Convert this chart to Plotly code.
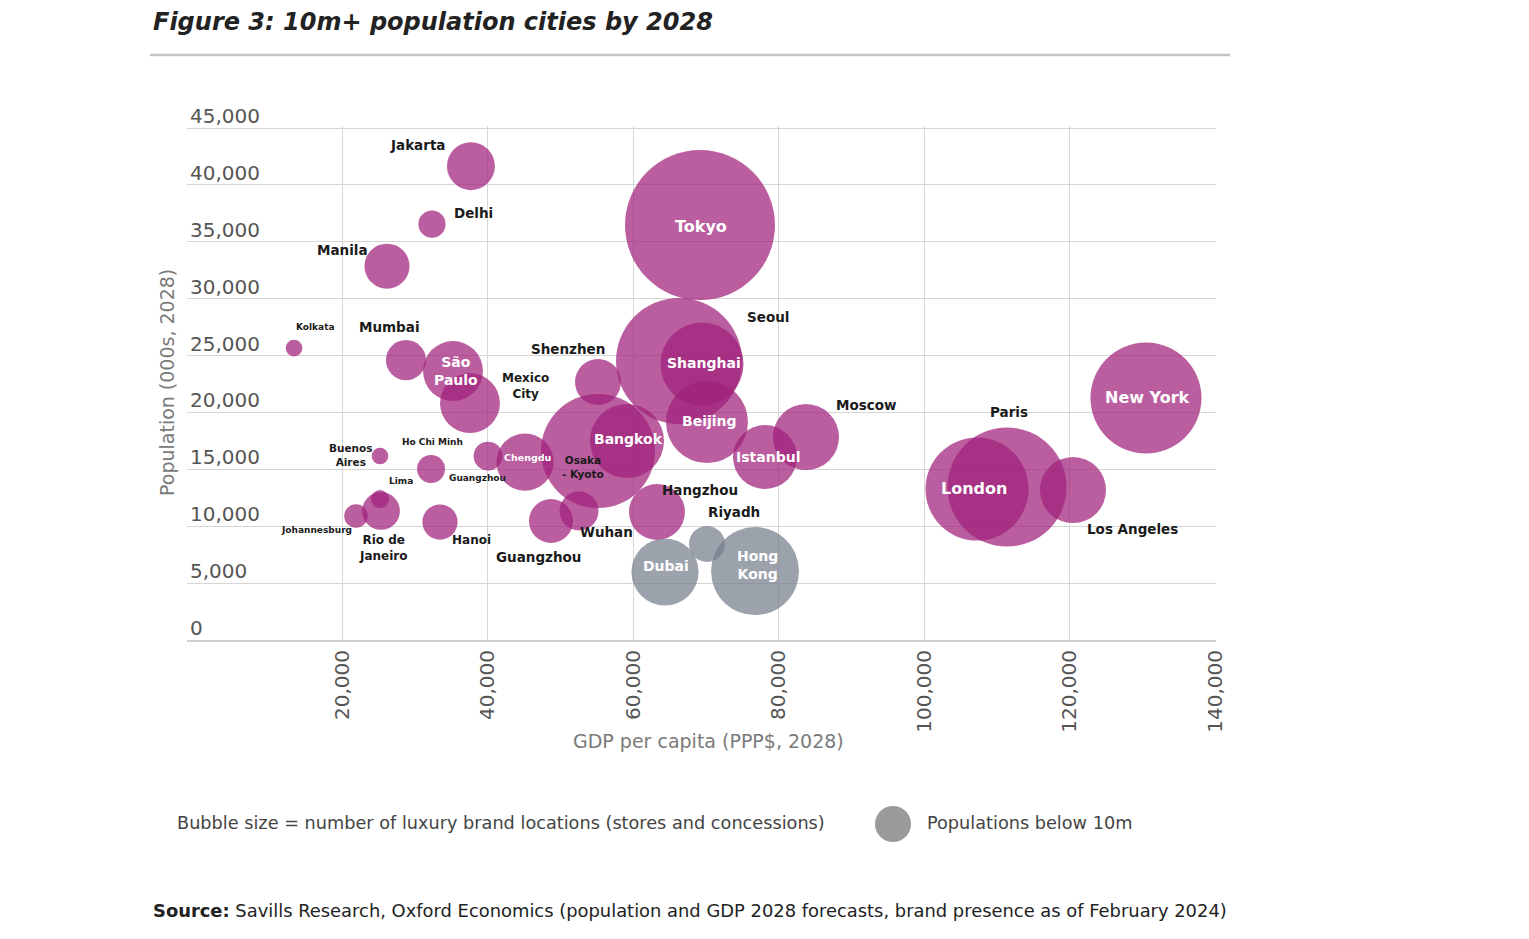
import plotly.graph_objects as go

# ---------------- data ----------------
cities = ["Jakarta", "Delhi", "Manila", "Kolkata", "Mumbai", "São Paulo", "Mexico City",
          "Buenos Aires", "Ho Chi Minh", "Guangzhou", "Chengdu", "Osaka - Kyoto", "Bangkok",
          "Shenzhen", "Seoul", "Shanghai", "Beijing", "Istanbul", "Moscow", "Hangzhou",
          "Wuhan", "Guangzhou", "Rio de Janeiro", "Lima", "Johannesburg", "Hanoi",
          "New York", "Paris", "London", "Los Angeles", "Tokyo"]
gdp_pc = [37700, 32350, 26170, 13400, 28780, 35240, 37570,
          25210, 32220, 40050, 45130, 55160, 59140,
          55160, 66290, 69450, 70130, 78100, 83730, 63260,
          52550, 48700, 25350, 25210, 21910, 33450,
          130440, 111350, 107230, 120410, 69170]
population = [41650, 36550, 32860, 25660, 24600, 23640, 20820,
              16170, 15030, 16170, 15640, 16610, 17490,
              22670, 24520, 24250, 19160, 16080, 17840, 11250,
              11340, 10460, 11340, 12390, 10900, 10370,
              21270, 13440, 13270, 13180, 36470]
brands = [50, 16, 44, 6, 35, 78, 78,
          6, 17, 18, 71, 283, 119,
          46, 345, 150, 146, 89, 95, 68,
          33, 42, 31, 7, 12, 27,
          268, 308, 231, 95, 489]

small_cities = ["Riyadh", "Dubai", "Hong Kong"]
small_gdp = [70130, 64360, 76730]
small_pop = [8440, 5980, 6060]
small_brands = [28, 98, 168]

x_ticks = [20000, 40000, 60000, 80000, 100000, 120000, 140000]
y_ticks = [0, 5000, 10000, 15000, 20000, 25000, 30000, 35000, 40000, 45000]

# label text, style, pixel offset from bubble centre (dx right, dy up)
labels_main = [
    ("Jakarta", "b", -53, 21), ("Delhi", "b", 42, 11), ("Manila", "b", -44, 16),
    ("Kolkata", "s", 21, 21), ("Mumbai", "b", -16, 33), ("São<br>Paulo", "w", 3, 0),
    ("Mexico<br>City", "m", 56, 17), ("Buenos<br>Aires", "m2", -29, 1),
    ("Ho Chi Minh", "s", 1, 27), ("Guangzhou", "s", -11, -22), ("Chengdu", "ws", 2, 5),
    ("Osaka<br>- Kyoto", "m2", -15, -16), ("Bangkok", "w", 2, 2), ("Shenzhen", "b", -30, 33),
    ("Seoul", "b", 89, 44), ("Shanghai", "w", 2, 1), ("Beijing", "w", 3, 1),
    ("Istanbul", "w", 3, 0), ("Moscow", "b", 61, 32), ("Hangzhou", "b", 43, 22),
    ("Wuhan", "b", 27, -21), ("Guangzhou", "b", -12, -36), ("Rio de<br>Janeiro", "m", 2, -37),
    ("Lima", "s", 21, 18), ("Johannesburg", "s", -39, -14), ("Hanoi", "m", 32, -18),
    ("New York", "wl", 2, 1), ("Paris", "b", 2, 75), ("London", "wl", -3, 1),
    ("Los Angeles", "b", 60, -39), ("Tokyo", "wl", 1, -1),
]
labels_small = [("Riyadh", "b", 27, 32), ("Dubai", "w", 1, 6), ("Hong<br>Kong", "w", 2, 6)]

# ---------------- geometry ----------------
OFF = 8
W, H = 1513, 923
ML, MT, PW, PH = 179, 118, 1029, 514
MR = W - ML - PW
MB = H - MT - PH
Y_TOP = 45180


def pxx(px):
    return (px - OFF - ML) / PW


def pxy(py):
    return 1 - (py - OFF - MT) / PH


FONT = "DejaVu Sans"
styles = {
    "b": dict(color="#1a1a1a", size=13.5, family=FONT, weight="bold"),
    "m": dict(color="#1a1a1a", size=12, family=FONT, weight="bold"),
    "m2": dict(color="#1a1a1a", size=10.5, family=FONT, weight="bold"),
    "s": dict(color="#1a1a1a", size=9, family=FONT, weight="bold"),
    "w": dict(color="white", size=14, family=FONT, weight="bold"),
    "wl": dict(color="white", size=16, family=FONT, weight="bold"),
    "ws": dict(color="white", size=9.5, family=FONT, weight="bold"),
}
TICK_FONT = dict(family=FONT, size=20, color="#555555")
TITLE_FONT = dict(family=FONT, size=19, color="#7a7a7a")
TEXT_FONT = dict(family=FONT, size=17.7, color="#444444")

max_d = 150
sizeref = 2.0 * max(brands) / (max_d ** 2)

fig = go.Figure()
fig.add_trace(go.Scatter(
    x=gdp_pc, y=population, mode="markers", text=cities,
    marker=dict(size=brands, sizemode="area", sizeref=sizeref,
                color="rgb(160,32,122)", opacity=0.72, line=dict(width=0)),
    hovertemplate="%{text}<extra></extra>", showlegend=False))
fig.add_trace(go.Scatter(
    x=small_gdp, y=small_pop, mode="markers", text=small_cities,
    marker=dict(size=small_brands, sizemode="area", sizeref=sizeref,
                color="rgb(118,126,138)", opacity=0.72, line=dict(width=0)),
    hovertemplate="%{text}<extra></extra>", showlegend=False))

annotations = []
for (txt, st, dx, dy), gx, gy in list(zip(labels_main, gdp_pc, population)) + \
        list(zip(labels_small, small_gdp, small_pop)):
    annotations.append(dict(x=gx, y=gy, xref="x", yref="y", text=txt, showarrow=False,
                            xshift=dx, yshift=dy, font=styles[st], align="center",
                            xanchor="center", yanchor="middle"))

# y tick labels (sit above their gridlines)
for v in y_ticks:
    annotations.append(dict(x=pxx(188), y=v, xref="paper", yref="y", text=f"{v:,}",
                            showarrow=False, xanchor="left", yanchor="middle", yshift=12,
                            font=TICK_FONT))

# axis titles
annotations.append(dict(x=pxx(167), y=pxy(383), xref="paper", yref="paper",
                        xanchor="center", yanchor="middle",
                        text="Population (000s, 2028)", textangle=-90, showarrow=False,
                        font=TITLE_FONT))
annotations.append(dict(x=pxx(708), y=pxy(741), xref="paper", yref="paper",
                        xanchor="center", yanchor="middle",
                        text="GDP per capita (PPP$, 2028)", showarrow=False,
                        font=TITLE_FONT))
# title
annotations.append(dict(x=pxx(151), y=pxy(22), xref="paper", yref="paper", xanchor="left",
                        yanchor="middle", showarrow=False,
                        text="<b><i>Figure 3: 10m+ population cities by 2028</i></b>",
                        font=dict(family=FONT, size=24, color="#222222")))
# legend row
annotations.append(dict(x=pxx(175), y=pxy(823), xref="paper", yref="paper", xanchor="left",
                        yanchor="middle", showarrow=False,
                        text="Bubble size = number of luxury brand locations (stores and concessions)",
                        font=TEXT_FONT))
annotations.append(dict(x=pxx(925), y=pxy(823), xref="paper", yref="paper", xanchor="left",
                        yanchor="middle", showarrow=False, text="Populations below 10m",
                        font=TEXT_FONT))
# source
annotations.append(dict(x=pxx(151), y=pxy(910), xref="paper", yref="paper", xanchor="left",
                        yanchor="middle", showarrow=False,
                        text="<b>Source:</b> Savills Research, Oxford Economics (population and GDP 2028 forecasts, brand presence as of February 2024)",
                        font=dict(family=FONT, size=17.9, color="#222222")))

shapes = [
    dict(type="line", xref="paper", yref="paper", x0=pxx(150), x1=pxx(1230),
         y0=pxy(55), y1=pxy(55), line=dict(color="#c4c4c4", width=2.5)),
    dict(type="circle", xref="paper", yref="paper", xsizemode="pixel", ysizemode="pixel",
         xanchor=pxx(893), yanchor=pxy(824), x0=-18, x1=18, y0=-18, y1=18,
         fillcolor="#9b9b9b", line=dict(width=0)),
]

fig.update_layout(
    width=W, height=H,
    margin=dict(l=ML, r=MR, t=MT, b=MB, pad=0),
    paper_bgcolor="white", plot_bgcolor="white",
    font=dict(family=FONT, color="#555555"),
    annotations=annotations, shapes=shapes,
    xaxis=dict(range=[-1305, 140060], tickvals=x_ticks, tickformat=",", tickangle=-90,
               showgrid=True, gridcolor="#d6d6d6", gridwidth=1, zeroline=False,
               showline=True, linecolor="#cfcfcf", linewidth=2, ticks="",
               tickfont=TICK_FONT),
    yaxis=dict(range=[0, Y_TOP], tickvals=y_ticks, showticklabels=False,
               showgrid=True, gridcolor="#d6d6d6", gridwidth=1, zeroline=False,
               showline=False, ticks=""),
)

fig.write_html("out.html")
